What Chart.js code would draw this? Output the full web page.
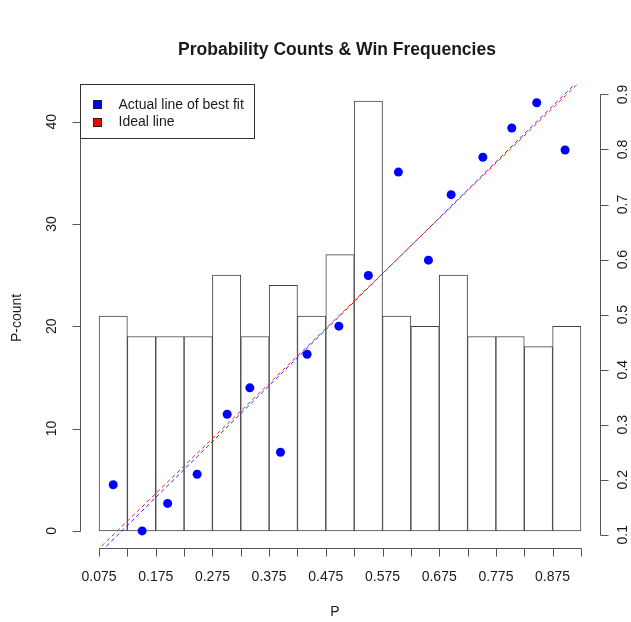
<!DOCTYPE html>
<html>
<head>
<meta charset="utf-8">
<script src="https://cdn.jsdelivr.net/npm/chart.js@4"></script>
<style>
  body { margin: 0; background: #fff; }
  #wrap { width: 631px; height: 622px; }
</style>
</head>
<body>
<div id="wrap"><canvas id="myChart" width="631" height="622"></canvas></div>
<script>
// histogram of P (bins of width 0.05)
const binCenters = [0.10, 0.15, 0.20, 0.25, 0.30, 0.35, 0.40, 0.45, 0.50, 0.55, 0.60, 0.65, 0.70, 0.75, 0.80, 0.85, 0.90];
const pCounts = [21, 19, 19, 19, 25, 19, 24, 21, 27, 42, 21, 20, 25, 19, 19, 18, 20];

// win frequency per bin (right axis)
const winP = [0.100, 0.151, 0.196, 0.248, 0.301, 0.341, 0.395, 0.442, 0.498, 0.550, 0.603, 0.656, 0.696, 0.752, 0.803, 0.847, 0.897];
const winFreq = [0.191, 0.107, 0.157, 0.210, 0.319, 0.367, 0.250, 0.428, 0.479, 0.571, 0.759, 0.599, 0.718, 0.786, 0.839, 0.885, 0.799];

// reference lines (end points)
const idealX = [0, 1];
const idealY = [0, 1];
const fitX = [0, 1];
const fitY = [-0.010, 1.006];

// tick labels
const xTicks = [0.075, 0.125, 0.175, 0.225, 0.275, 0.325, 0.375, 0.425, 0.475, 0.525, 0.575, 0.625, 0.675, 0.725, 0.775, 0.825, 0.875, 0.925];
const countTicks = [0, 10, 20, 30, 40];
const freqTicks = [0.1, 0.2, 0.3, 0.4, 0.5, 0.6, 0.7, 0.8, 0.9];

const FONT = '"Liberation Sans", Arial, sans-serif';
const INK = '#1a1a1a';
const AXIS = '#555';

const toPts = (xs, ys) => xs.map((x, i) => ({ x: x, y: ys[i] }));
const crisp = v => Math.round(v) + 0.5;

// R-style axes, rotated tick labels, titles and legend
const rDecor = {
  id: 'rDecor',
  afterDraw(chart) {
    const c = chart.ctx;
    const a = chart.chartArea;
    const sx = chart.scales.x, sy = chart.scales.y, sy2 = chart.scales.y2;
    const bx = crisp(a.bottom), lx0 = crisp(a.left), rx0 = crisp(a.right);
    c.save();
    c.strokeStyle = AXIS;
    c.lineWidth = 1;
    c.beginPath();
    // bottom axis
    c.moveTo(crisp(sx.getPixelForValue(xTicks[0])), bx);
    c.lineTo(crisp(sx.getPixelForValue(xTicks[xTicks.length - 1])), bx);
    xTicks.forEach(v => {
      const px = crisp(sx.getPixelForValue(v));
      c.moveTo(px, bx);
      c.lineTo(px, bx + 8);
    });
    // left axis
    c.moveTo(lx0, crisp(sy.getPixelForValue(countTicks[0])));
    c.lineTo(lx0, crisp(sy.getPixelForValue(countTicks[countTicks.length - 1])));
    countTicks.forEach(v => {
      const py = crisp(sy.getPixelForValue(v));
      c.moveTo(lx0, py);
      c.lineTo(lx0 - 8, py);
    });
    // right axis
    c.moveTo(rx0, crisp(sy2.getPixelForValue(freqTicks[0])));
    c.lineTo(rx0, crisp(sy2.getPixelForValue(freqTicks[freqTicks.length - 1])));
    freqTicks.forEach(v => {
      const py = crisp(sy2.getPixelForValue(v));
      c.moveTo(rx0, py);
      c.lineTo(rx0 + 8, py);
    });
    c.stroke();

    c.fillStyle = INK;
    c.font = '14px ' + FONT;
    c.textAlign = 'center';
    c.textBaseline = 'middle';
    xTicks.forEach((v, i) => {
      if (i % 2 === 0) c.fillText(v.toFixed(3), sx.getPixelForValue(v), a.bottom + 29);
    });
    countTicks.forEach(v => {
      c.save();
      c.translate(a.left - 28, sy.getPixelForValue(v));
      c.rotate(-Math.PI / 2);
      c.fillText(String(v), 0, 0);
      c.restore();
    });
    freqTicks.forEach(v => {
      c.save();
      c.translate(a.right + 23, sy2.getPixelForValue(v));
      c.rotate(-Math.PI / 2);
      c.fillText(v.toFixed(1), 0, 0);
      c.restore();
    });

    // axis titles
    c.save();
    c.translate(17, 318);
    c.rotate(-Math.PI / 2);
    c.fillText('P-count', 0, 0);
    c.restore();
    c.fillText('P', 335, 612);

    // main title
    c.font = 'bold 17.5px ' + FONT;
    c.fillText('Probability Counts & Win Frequencies', 337, 50);

    // legend
    const gx = crisp(a.left), gy = crisp(a.top);
    c.fillStyle = '#fff';
    c.fillRect(gx, gy, 174, 54);
    c.strokeStyle = '#333';
    c.strokeRect(gx, gy, 174, 54);
    const items = [['Actual line of best fit', '#0000ff'], ['Ideal line', '#ff0000']];
    c.font = '14px ' + FONT;
    c.textAlign = 'left';
    items.forEach((it, i) => {
      const cy = a.top + 20 + i * 17.5;
      c.fillStyle = it[1];
      c.fillRect(gx + 13, Math.round(cy - 4), 8, 8);
      c.strokeStyle = '#222';
      c.strokeRect(gx + 13, Math.round(cy - 4) + 0.5, 8, 8);
      c.fillStyle = INK;
      c.fillText(it[0], gx + 38, cy + 1);
    });
    c.restore();
  }
};

const hiddenAxis = {
  offset: false,
  border: { display: false },
  grid: { display: false, offset: false },
  ticks: { display: false }
};

const ctx = document.getElementById('myChart').getContext('2d');
const myChart = new Chart(ctx, {
  data: {
    datasets: [
      {
        type: 'line',
        label: 'Actual line of best fit',
        data: toPts(fitX, fitY),
        yAxisID: 'y2',
        borderColor: '#2a2aff',
        borderWidth: 1,
        borderDash: [4, 3],
        pointRadius: 0,
        order: 1
      },
      {
        type: 'line',
        label: 'Ideal line',
        data: toPts(idealX, idealY),
        yAxisID: 'y2',
        borderColor: '#ff2020',
        borderWidth: 1,
        borderDash: [4, 3],
        pointRadius: 0,
        order: 0
      },
      {
        type: 'scatter',
        label: 'Win frequency',
        data: toPts(winP, winFreq),
        yAxisID: 'y2',
        backgroundColor: '#0000ff',
        pointRadius: 4.5,
        pointBorderWidth: 0,
        order: 2
      },
      {
        type: 'bar',
        label: 'P-count',
        data: toPts(binCenters, pCounts),
        yAxisID: 'y',
        backgroundColor: '#fff',
        borderColor: '#444',
        borderWidth: 1,
        borderSkipped: false,
        barPercentage: 1,
        categoryPercentage: 1,
        order: 3
      }
    ]
  },
  options: {
    responsive: false,
    animation: false,
    layout: { padding: { top: 84, left: 0, right: 0, bottom: 0 } },
    plugins: {
      legend: { display: false },
      tooltip: { enabled: false },
      title: { display: false }
    },
    scales: {
      x: Object.assign({
        type: 'linear',
        min: 0.0414,
        max: 0.9586,
        afterFit: s => { s.height = 74; }
      }, hiddenAxis),
      y: Object.assign({
        type: 'linear',
        position: 'left',
        min: -1.68,
        max: 43.68,
        afterFit: s => { s.width = 80; }
      }, hiddenAxis),
      y2: Object.assign({
        type: 'linear',
        position: 'right',
        min: 0.076,
        max: 0.919,
        afterFit: s => { s.width = 31; }
      }, hiddenAxis)
    }
  },
  plugins: [rDecor]
});
</script>
</body>
</html>
